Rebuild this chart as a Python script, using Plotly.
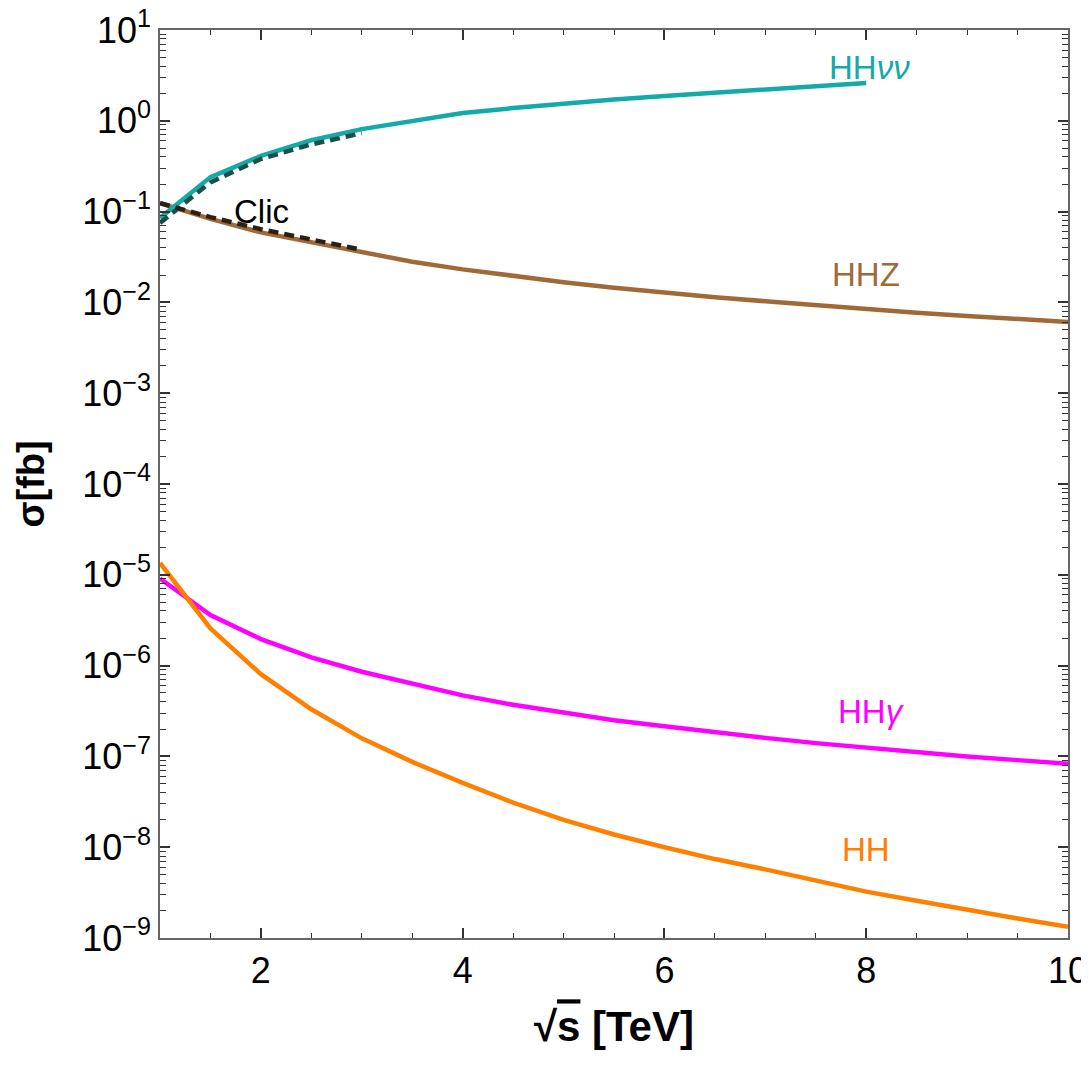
import plotly.graph_objects as go

# sqrt(s) in TeV
sqrt_s = [1.0, 1.5, 2.0, 2.5, 3.0, 3.5, 4.0, 4.5, 5.0, 5.5, 6.0, 6.5, 7.0, 7.5, 8.0, 8.5, 9.0, 9.5, 10.0]

# HH nu nu (up to 8 TeV)
x_hhvv = sqrt_s[:15]
hhvv = [0.085, 0.24, 0.41, 0.61, 0.81, 1.0, 1.22, 1.38, 1.55, 1.72, 1.88, 2.04, 2.2, 2.4, 2.6]

# HHZ
hhz = [0.124, 0.083, 0.059, 0.046, 0.035, 0.028, 0.0231, 0.0194, 0.0167, 0.0145, 0.0128,
       0.0114, 0.0103, 0.0093, 0.0084, 0.0077, 0.0071, 0.0066, 0.0061]

# HH gamma
hhgamma = [9.1e-6, 3.6e-6, 1.96e-6, 1.23e-6, 8.55e-7, 6.4e-7, 4.7e-7, 3.7e-7, 3.03e-7, 2.5e-7,
           2.15e-7, 1.84e-7, 1.6e-7, 1.4e-7, 1.24e-7, 1.11e-7, 1.0e-7, 9.1e-8, 8.3e-8]

# HH
hh = [1.35e-5, 2.57e-6, 8.05e-7, 3.3e-7, 1.58e-7, 8.7e-8, 5.1e-8, 3.1e-8, 2.0e-8, 1.38e-8,
      1.0e-8, 7.4e-9, 5.7e-9, 4.3e-9, 3.24e-9, 2.57e-9, 2.04e-9, 1.64e-9, 1.33e-9]

# CLIC reference curves (dashed)
x_clic = [1.0, 1.5, 2.0, 2.5, 3.0]
clic_hhvv = [0.075, 0.21, 0.38, 0.55, 0.73]
clic_hhz = [0.124, 0.087, 0.064, 0.050, 0.038]

# axis ticks
x_tickvals = [2, 4, 6, 8, 10]
x_ticktext = ["2", "4", "6", "8", "10"]
y_exponents = list(range(-9, 2))
y_tickvals = [10.0 ** k for k in y_exponents]
y_ticktext = ["10<sup>" + (str(k) if k >= 0 else "\u2212" + str(-k)) + "</sup>" for k in y_exponents]
y_minor = [m * 10.0 ** k for k in range(-9, 1) for m in range(2, 10)]

TEAL = "#14AAAA"
BROWN = "#A06A38"
MAGENTA = "#FF00FF"
ORANGE = "#FF8000"
FONT = "Liberation Sans, Arial, sans-serif"

fig = go.Figure()
fig.add_trace(go.Scatter(x=sqrt_s, y=hhz, mode="lines", line=dict(color=BROWN, width=4.5)))
fig.add_trace(go.Scatter(x=x_hhvv, y=hhvv, mode="lines", line=dict(color=TEAL, width=4.5)))
fig.add_trace(go.Scatter(x=sqrt_s, y=hhgamma, mode="lines", line=dict(color=MAGENTA, width=4.5)))
fig.add_trace(go.Scatter(x=sqrt_s, y=hh, mode="lines", line=dict(color=ORANGE, width=4.5)))
fig.add_trace(go.Scatter(x=x_clic, y=clic_hhvv, mode="lines",
                         line=dict(color="#1C4E4B", width=4.5, dash="10px,6px")))
fig.add_trace(go.Scatter(x=x_clic, y=clic_hhz, mode="lines",
                         line=dict(color="#2A2014", width=4.5, dash="10px,6px")))

labels = [
    ("HH<i>νν</i>", 8.03, 0.59, TEAL),
    ("HHZ", 8.0, -1.688, BROWN),
    ("HH<i>γ</i>", 8.05, -6.51, MAGENTA),
    ("HH", 8.0, -8.02, ORANGE),
    ("Clic", 2.01, -0.995, "black"),
]
for txt, lx, ly, col in labels:
    fig.add_annotation(x=lx, y=ly, text=txt, showarrow=False,
                       font=dict(family=FONT, size=33, color=col),
                       xanchor="center", yanchor="middle")

axis_common = dict(
    showline=True, linecolor="#666666", linewidth=1.5, mirror="allticks",
    ticks="inside", tickcolor="#333333", tickwidth=1.5, ticklen=10,
    showgrid=False, zeroline=False, automargin=False, ticklabeloverflow="allow",
    tickfont=dict(family=FONT, size=36, color="black"),
)

fig.update_xaxes(
    range=[1, 10], tickmode="array", tickvals=x_tickvals, ticktext=x_ticktext,
    minor=dict(ticks="inside", dtick=0.5, ticklen=5, tickcolor="#333333", tickwidth=1.2),
    title=dict(text="<b>√<span style='text-decoration:overline'>s</span> [TeV]</b>",
               font=dict(family=FONT, size=42, color="black"), standoff=22),
    **axis_common,
)
fig.update_yaxes(
    type="log", range=[-9, 1], tickmode="array", tickvals=y_tickvals, ticktext=y_ticktext,
    minor=dict(ticks="inside", tickmode="array", tickvals=y_minor, ticklen=6,
               tickcolor="#333333", tickwidth=1.2),
    title=dict(text="<b>σ[fb]</b>", font=dict(family=FONT, size=38, color="black"), standoff=26),
    **axis_common,
)

fig.update_layout(
    width=1081, height=1057,
    margin=dict(l=152, r=21, t=22, b=127),
    plot_bgcolor="white", paper_bgcolor="white",
    showlegend=False,
)

fig.write_html("out.html")
